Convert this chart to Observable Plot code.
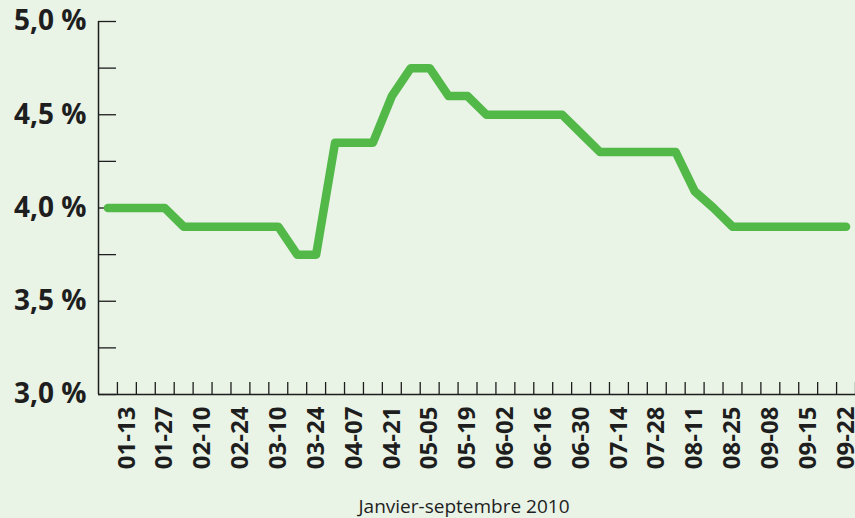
<!DOCTYPE html>
<html>
<head>
<meta charset="utf-8">
<script src="https://cdn.jsdelivr.net/npm/d3@7"></script>
<script src="https://cdn.jsdelivr.net/npm/@observablehq/plot@0.6"></script>
<style>
  html, body { margin: 0; padding: 0; background: #e9f3e6; }
  #chart svg { display: block; background: #e9f3e6; }
</style>
</head>
<body>
<div id="chart"></div>
<script>
// Weekly observation labels (only every other one is printed on the axis)
const categories = [
  "01-06","01-13","01-20","01-27","02-03","02-10","02-17","02-24","03-03","03-10",
  "03-17","03-24","03-31","04-07","04-14","04-21","04-28","05-05","05-12","05-19",
  "05-26","06-02","06-09","06-16","06-23","06-30","07-07","07-14","07-21","07-28",
  "08-04","08-11","08-18","08-25","09-01","09-08","09-10","09-15","09-17","09-22"
];
// Rate (%) at each observation
const rates = [
  4.0, 4.0, 4.0, 4.0, 3.9, 3.9, 3.9, 3.9, 3.9, 3.9,
  3.75, 3.75, 4.35, 4.35, 4.35, 4.6, 4.75, 4.75, 4.6, 4.6,
  4.5, 4.5, 4.5, 4.5, 4.5, 4.4, 4.3, 4.3, 4.3, 4.3,
  4.3, 4.09, 4.0, 3.9, 3.9, 3.9, 3.9, 3.9, 3.9, 3.9
];
const yLabelTicks = [3.0, 3.5, 4.0, 4.5, 5.0];
const yMinorTicks = [3.0, 3.25, 3.5, 3.75, 4.0, 4.25, 4.5, 4.75, 5.0];
const caption = "Janvier-septembre 2010";

const data = categories.map((c, i) => ({i, date: c, rate: rates[i]}));
const labelIdx = categories.map((c, i) => i).filter(i => i % 2 === 1);
const boundaries = categories.map((c, i) => i + 0.5);

const W = 855, H = 518, mT = 21, mB = 124, mL = 98, mR = 0;
const ink = "#1e1e1e";
const font = "'Open Sans', 'DejaVu Sans', sans-serif";

const chart = Plot.plot({
  width: W, height: H,
  marginTop: mT, marginBottom: mB, marginLeft: mL, marginRight: mR,
  style: {background: "#e9f3e6", fontFamily: font, color: ink},
  x: {type: "linear", domain: [-0.5, categories.length - 0.5]},
  y: {domain: [3, 5]},
  marks: [
    // x axis labels (rotated)
    Plot.axisX({
      ticks: labelIdx, tickSize: 0, tickPadding: 12, tickRotate: -90,
      tickFormat: i => categories[i],
      fontSize: 24, fontWeight: "bold", fill: ink, label: null
    }),
    // caption under the axis
    Plot.text([caption], {
      text: d => d, frameAnchor: "bottom", dy: 112, dx: -13,
      fontSize: 19, fontWeight: "normal", fill: ink, lineAnchor: "middle"
    }),
    // y axis labels
    Plot.axisY({
      ticks: yLabelTicks, tickSize: 0, tickPadding: 12,
      tickFormat: d => d.toFixed(1).replace(".", ",") + " %",
      fontSize: 28, fontWeight: "bold", fill: ink, label: null
    }),
    // inward ticks
    Plot.tickX(boundaries, {x: d => d, stroke: ink, strokeWidth: 1.3,
      insetTop: (H - mT - mB) - 12}),
    Plot.tickY(yMinorTicks, {y: d => d, stroke: ink, strokeWidth: 1.3,
      insetRight: (W - mL - mR) - 18}),
    // axis lines
    Plot.ruleX([-0.5], {stroke: ink, strokeWidth: 1.5}),
    Plot.ruleY([3], {stroke: ink, strokeWidth: 1.5}),
    // data line
    Plot.line(data, {x: "i", y: "rate", stroke: "#52b848", strokeWidth: 8.5,
      strokeLinecap: "round", strokeLinejoin: "round"})
  ]
});
document.getElementById("chart").appendChild(chart);
</script>
</body>
</html>
